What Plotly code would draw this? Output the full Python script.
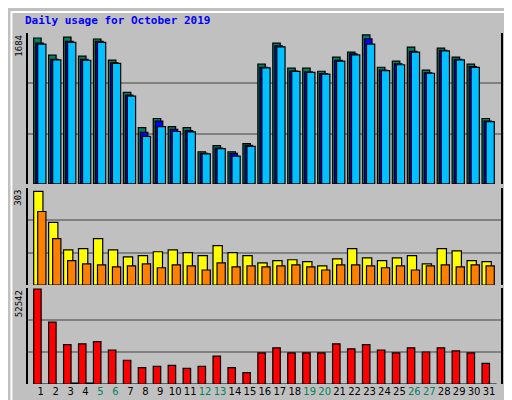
import plotly.graph_objects as go

days = list(range(1, 32))
weekends = {5, 6, 12, 13, 19, 20, 26, 27}

hits = [1628, 1437, 1639, 1426, 1617, 1381, 1022, 629, 730, 640, 629, 359, 427, 359, 449,
        1336, 1572, 1291, 1291, 1257, 1415, 1471, 1662, 1302, 1370, 1527, 1269, 1516, 1415, 1336, 730]
files = [1570, 1390, 1590, 1390, 1590, 1350, 990, 575, 700, 610, 595, 340, 400, 340, 430,
         1300, 1540, 1260, 1250, 1230, 1380, 1450, 1620, 1270, 1340, 1480, 1240, 1490, 1390, 1310, 700]
pages = [1560, 1385, 1580, 1380, 1580, 1345, 980, 530, 640, 585, 580, 335, 395, 310, 420,
         1295, 1530, 1255, 1245, 1225, 1370, 1440, 1560, 1265, 1330, 1470, 1235, 1485, 1385, 1300, 695]

visits = [293, 196, 110, 114, 145, 110, 88, 92, 104, 110, 101, 92, 123, 101, 92,
          69, 76, 79, 73, 60, 82, 114, 85, 76, 85, 92, 66, 114, 107, 76, 73]
sites = [230, 145, 76, 66, 63, 57, 60, 66, 54, 63, 60, 47, 69, 57, 60,
         57, 60, 63, 57, 47, 63, 63, 60, 54, 60, 47, 60, 63, 57, 63, 60]

kbytes = [52000, 33900, 21500, 22000, 23200, 18600, 13000, 9000, 9600, 10200, 8500, 9600, 15300, 9000, 6200,
          17000, 19800, 17000, 17000, 17000, 22000, 19200, 21500, 18600, 17000, 19800, 17500, 19800, 18100, 17000, 11300]
kb_in = [0, 0, 500, 500] + [0] * 27

max_hits, max_visits, max_kb = 1684, 303, 52542
GRAY = "#c0c0c0"
LINE = dict(color="black", width=1.2)


def bars(x, y, color, offset, width, yaxis):
    return go.Bar(x=x, y=y, marker=dict(color=color, line=LINE), offset=offset,
                  width=width, yaxis=yaxis, xaxis="x")


fig = go.Figure()
fig.add_trace(bars(days, hits, "#008060", -0.47, 0.5, "y"))
fig.add_trace(bars(days, files, "#0000ff", -0.33, 0.5, "y"))
fig.add_trace(bars(days, pages, "#00c0ff", -0.2, 0.55, "y"))
fig.add_trace(bars(days, visits, "#ffff00", -0.47, 0.62, "y2"))
fig.add_trace(bars(days, sites, "#ff8000", -0.2, 0.55, "y2"))
fig.add_trace(bars(days, kbytes, "#ff0000", -0.47, 0.5, "y3"))
fig.add_trace(bars(days, kb_in, "#000080", 0.0, 0.5, "y3"))

ticktext = [f"<span style='color:#008060'>{d}</span>" if d in weekends else str(d) for d in days]

yax = dict(showticklabels=False, ticks="", showgrid=True, gridcolor="#808080", gridwidth=1.5,
           zeroline=False, showline=True, linecolor="black", linewidth=2, mirror=True)

fig.update_layout(
    width=512, height=400, barmode="overlay", showlegend=False,
    paper_bgcolor=GRAY, plot_bgcolor=GRAY,
    margin=dict(l=20, r=19, t=25, b=24),
    font=dict(family="DejaVu Sans", size=10, color="black"),
    xaxis=dict(range=[0.15, 31.8], tickvals=days, ticktext=ticktext, ticks="", tickangle=0,
               showgrid=False, zeroline=False, showline=False, anchor="y3", tickfont=dict(size=10)),
    yaxis=dict(domain=[0.57, 1], range=[0, max_hits], dtick=max_hits / 3, **yax),
    yaxis2=dict(domain=[0.282, 0.558], range=[0, max_visits], dtick=max_visits / 3, **yax),
    yaxis3=dict(domain=[0, 0.2735], range=[0, max_kb], dtick=max_kb / 3, **yax),
    shapes=[dict(type="rect", xref="paper", yref="paper", x0=-0.035, x1=1.03, y0=-0.06, y1=1.06,
                 line=dict(color="white", width=2), layer="below")],
)

title = "<b>Daily usage for October 2019</b>"
ann = [
    dict(x=-0.01, y=1.037, text=title, xanchor="left", yanchor="middle",
         font=dict(family="DejaVu Sans Mono", size=11, color="#0000ff")),
    dict(x=-0.005, y=1.0, text=str(max_hits), textangle=-90, xanchor="right", yanchor="top"),
    dict(x=-0.005, y=0.558, text=str(max_visits), textangle=-90, xanchor="right", yanchor="top"),
    dict(x=-0.005, y=0.2735, text=str(max_kb), textangle=-90, xanchor="right", yanchor="top"),
    dict(x=1.003, y=1.0, textangle=-90, xanchor="left", yanchor="top",
         text="<span style='color:#00c0ff'>Pages</span>/<span style='color:#0000ff'>Files</span>"
              "/<span style='color:#008060'>Hits</span>"),
    dict(x=1.003, y=0.558, textangle=-90, xanchor="left", yanchor="top",
         text="<span style='color:#ff8000'>KB Out Sites</span>/<span style='color:#ffff00'>Visits</span>"),
    dict(x=1.003, y=0.2735, textangle=-90, xanchor="left", yanchor="top",
         text="<span style='color:#ff0000'>KB F</span>/<span style='color:#000080'>KB In</span>"),
]
ann[5]["text"] = "<span style='color:#ff8000'>Sites</span>/<span style='color:#ffff00'>Visits</span>"
for a in ann:
    a.setdefault("font", dict(family="DejaVu Sans Mono", size=9))
    fig.add_annotation(xref="paper", yref="paper", showarrow=False, **a)

fig.write_html("out.html")
